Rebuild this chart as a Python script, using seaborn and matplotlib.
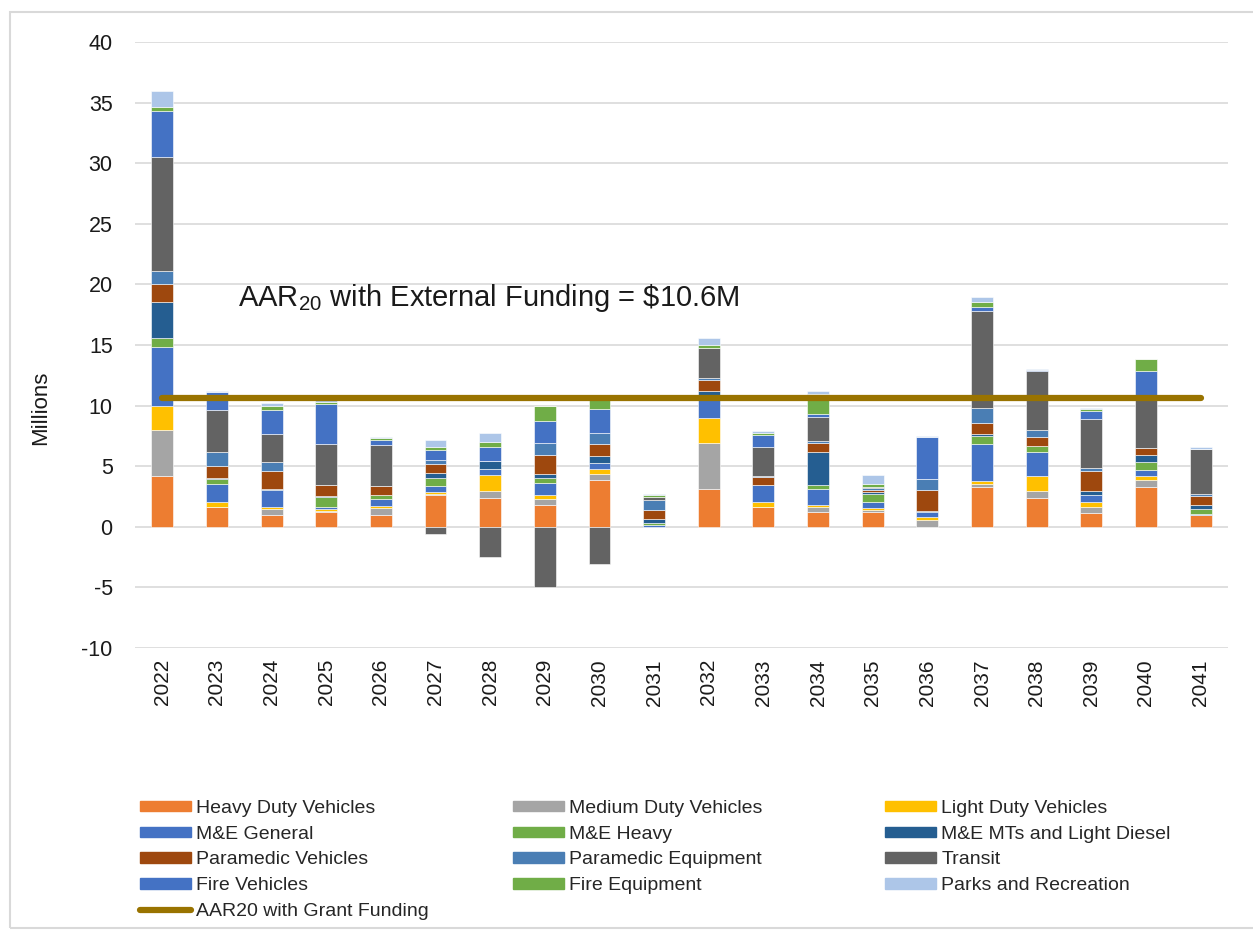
import numpy as np
import matplotlib
matplotlib.use("Agg")
import matplotlib.pyplot as plt
import seaborn as sns
from matplotlib.patches import Patch, Rectangle
from matplotlib.lines import Line2D

# ---------------------------------------------
# DATA (millions)
# ---------------------------------------------
years = [str(y) for y in range(2022, 2042)]

heavy_duty = [4.18, 1.62, 0.99, 1.21, 0.96, 2.61, 2.39, 1.76, 3.85, 0.00,
              3.10, 1.65, 1.24, 1.24, 0.00, 3.30, 2.39, 1.10, 3.30, 0.93]
medium_duty = [3.79, 0.00, 0.44, 0.10, 0.55, 0.10, 0.60, 0.49, 0.52, 0.00,
               3.79, 0.00, 0.38, 0.14, 0.55, 0.22, 0.60, 0.52, 0.55, 0.00]
light_duty = [2.00, 0.44, 0.19, 0.16, 0.19, 0.16, 1.26, 0.41, 0.41, 0.00,
              2.12, 0.41, 0.19, 0.16, 0.22, 0.22, 1.16, 0.44, 0.33, 0.00]
me_general = [4.86, 1.48, 1.43, 0.19, 0.55, 0.52, 0.52, 0.96, 0.47, 0.14,
              1.51, 1.35, 1.29, 0.52, 0.47, 3.08, 2.03, 0.60, 0.53, 0.14]
me_heavy = [0.74, 0.41, 0.00, 0.77, 0.41, 0.66, 0.00, 0.44, 0.00, 0.14,
            0.00, 0.00, 0.33, 0.66, 0.00, 0.63, 0.52, 0.00, 0.60, 0.38]
me_mts = [2.97, 0.08, 0.08, 0.08, 0.00, 0.41, 0.63, 0.30, 0.60, 0.35,
          0.71, 0.00, 2.75, 0.14, 0.08, 0.22, 0.00, 0.33, 0.63, 0.33]
paramedic_veh = [1.46, 0.96, 1.46, 0.96, 0.74, 0.74, 0.00, 1.57, 0.96, 0.76,
                 0.85, 0.66, 0.71, 0.14, 1.68, 0.93, 0.71, 1.59, 0.55, 0.75]
paramedic_eq = [1.07, 1.18, 0.74, 0.00, 0.00, 0.30, 0.00, 0.96, 0.91, 0.85,
                0.19, 0.08, 0.19, 0.19, 0.93, 1.18, 0.55, 0.30, 0.00, 0.16]
transit = [9.40, 3.49, 2.31, 3.38, 3.38, -0.60, -2.47, -5.00, -3.10, 0.22,
           2.47, 2.45, 1.95, 0.10, 0.00, 8.00, 4.86, 4.04, 4.20, 3.74]
fire_veh = [3.87, 1.46, 2.00, 3.30, 0.41, 0.85, 1.15, 1.81, 2.03, 0.00,
            0.00, 0.93, 0.30, 0.00, 3.49, 0.33, 0.14, 0.63, 2.12, 0.00]
fire_eq = [0.33, 0.00, 0.33, 0.16, 0.16, 0.22, 0.44, 1.29, 0.90, 0.14,
           0.27, 0.22, 1.65, 0.27, 0.00, 0.44, 0.00, 0.14, 1.01, 0.00]
parks = [1.26, 0.10, 0.22, 0.12, 0.05, 0.60, 0.77, 0.00, 0.15, 0.08,
         0.55, 0.14, 0.25, 0.71, 0.10, 0.41, 0.08, 0.10, 0.05, 0.14]

aar_value = 10.6
aar_line = [aar_value] * len(years)

series_names = ["Heavy Duty Vehicles", "Medium Duty Vehicles", "Light Duty Vehicles",
                "M&E General", "M&E Heavy", "M&E MTs and Light Diesel",
                "Paramedic Vehicles", "Paramedic Equipment", "Transit",
                "Fire Vehicles", "Fire Equipment", "Parks and Recreation"]
series_values = [heavy_duty, medium_duty, light_duty, me_general, me_heavy, me_mts,
                 paramedic_veh, paramedic_eq, transit, fire_veh, fire_eq, parks]
series_colors = ["#ED7D31", "#A5A5A5", "#FFC000", "#4472C4", "#70AD47", "#255E91",
                 "#9E480E", "#4A7EB4", "#636363", "#4472C4", "#70AD47", "#ADC6E8"]
aar_color = "#997300"

# ---------------------------------------------
# STYLE
# ---------------------------------------------
sns.set_theme(style="white")
plt.rcParams["font.family"] = ["Liberation Sans", "DejaVu Sans"]
plt.rcParams["mathtext.fontset"] = "custom"
plt.rcParams["mathtext.rm"] = "Liberation Sans"
plt.rcParams["mathtext.it"] = "Liberation Sans"
plt.rcParams["axes.unicode_minus"] = False

fig = plt.figure(figsize=(12.53, 9.31), dpi=100)
ax = fig.add_axes([0.1077, 0.304, 0.8723, 0.651])

# chart-area border
fig.patches.append(Rectangle((10 / 1253, 1 - 928 / 931), 1.0, 916 / 931,
                             transform=fig.transFigure, fill=False,
                             edgecolor="#D9D9D9", linewidth=1.5))

# ---------------------------------------------
# STACKED BARS (positive and negative stacks kept apart)
# ---------------------------------------------
pos_cum = np.zeros(len(years))
neg_cum = np.zeros(len(years))
for name, vals, col in zip(series_names, series_values, series_colors):
    v = np.array(vals, dtype=float)
    bottom = np.where(v >= 0, pos_cum, neg_cum)
    sns.barplot(x=years, y=v, bottom=bottom, order=years, color=col,
                saturation=1, width=0.4, errorbar=None, ax=ax,
                edgecolor="white", linewidth=0.4, zorder=3)
    pos_cum = pos_cum + np.where(v > 0, v, 0)
    neg_cum = neg_cum + np.where(v < 0, v, 0)

sns.lineplot(x=np.arange(len(years)), y=aar_line, color=aar_color, linewidth=4.5,
             solid_capstyle="round", ax=ax, zorder=5)

ax.text(1.38, 18.9, r"AAR$_{\mathrm{20}}$ with External Funding = \$10.6M",
        fontsize=21, va="center", ha="left", color="#1a1a1a", zorder=6)

# ---------------------------------------------
# AXES
# ---------------------------------------------
ax.set_xlim(-0.5, len(years) - 0.5)
ax.set_ylim(-10, 40)
ax.set_yticks(np.arange(-10, 41, 5))
ax.grid(axis="y", color="#D9D9D9", linewidth=1.2, zorder=0)
ax.grid(axis="x", visible=False)
for s in ax.spines.values():
    s.set_visible(False)
ax.tick_params(axis="y", length=0, pad=16, labelsize=15.5, labelcolor="#1a1a1a")
ax.tick_params(axis="x", length=0, pad=8, labelsize=15, labelcolor="#1a1a1a",
               labelrotation=90)
ax.set_xlabel("")
ax.set_ylabel("Millions", fontsize=16, color="#1a1a1a")
ax.yaxis.set_label_coords(-0.077, 0.396)

# ---------------------------------------------
# LEGEND (three fixed columns, row-wise order like the original)
# ---------------------------------------------
handles = [Patch(facecolor=c, edgecolor=c, label=n)
           for n, c in zip(series_names, series_colors)]
aar_handle = Line2D([0], [0], color=aar_color, linewidth=4.5,
                    solid_capstyle="round", label="AAR20 with Grant Funding")

col_x = [140 / 1253, 513 / 1253, 885 / 1253]
legend_kw = dict(loc="upper left", frameon=False, fontsize=14,
                 handlelength=2.6, handleheight=0.45, handletextpad=0.3,
                 labelspacing=0.45, borderpad=0, borderaxespad=0)
for i in range(3):
    col_handles = handles[i::3]
    if i == 0:
        col_handles = col_handles + [aar_handle]
    fig.legend(handles=col_handles, bbox_to_anchor=(col_x[i], 1 - 800 / 931),
               **legend_kw)

fig.savefig("out.png", dpi=100)
